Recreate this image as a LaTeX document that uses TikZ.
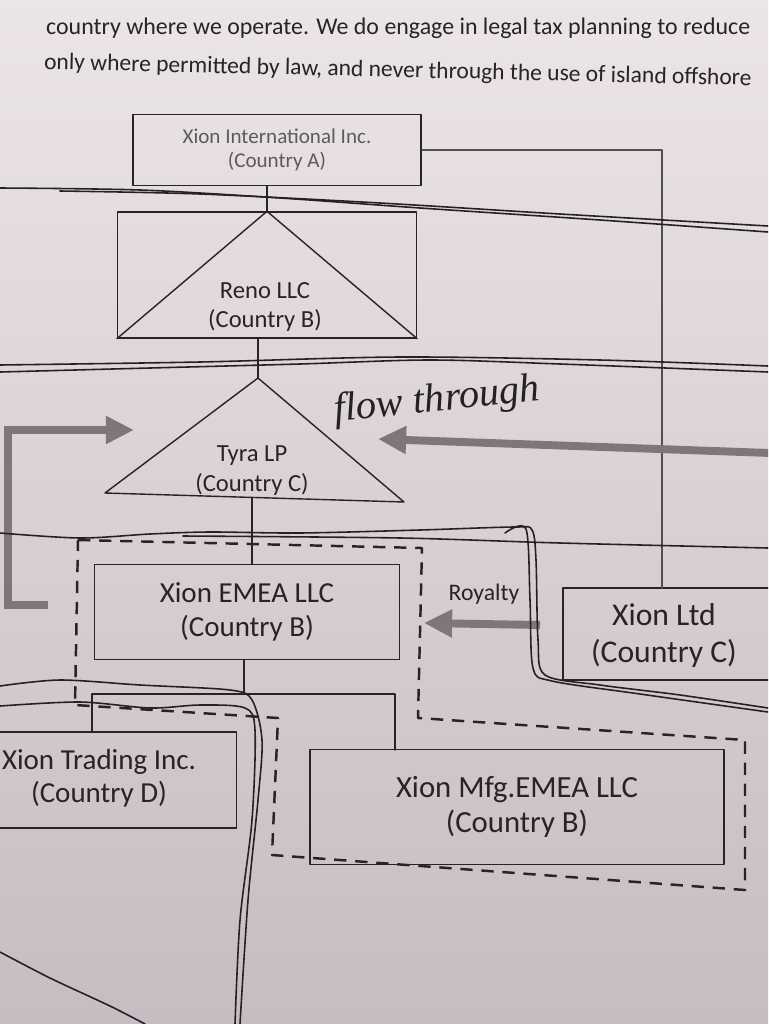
\documentclass[tikz,border=0pt]{standalone}
\usepackage{fontspec}
\setmainfont{Carlito}
\newfontfamily\handfont{Liberation Serif}
\usetikzlibrary{arrows.meta,calc}
\definecolor{paperhi}{RGB}{236,229,229}
\definecolor{paperlo}{RGB}{198,188,194}
\definecolor{ink}{RGB}{40,35,37}
\definecolor{pen}{RGB}{36,32,36}
\definecolor{flowgray}{RGB}{126,118,122}
\begin{document}
\begin{tikzpicture}[x=0.02cm,y=-0.02cm,line cap=round,line join=round,
  box/.style={draw=ink,line width=0.8pt,inner sep=0pt,align=center,text=ink,font=\fontsize{16.5}{19}\selectfont},
  lbl/.style={align=center,text=ink,font=\fontsize{15}{18}\selectfont},
  pen/.style={draw=pen,line width=0.9pt},
  flow/.style={draw=flowgray,line width=4.5pt,line cap=butt,line join=miter,-{Triangle[length=16pt,width=15pt]}},
  grp/.style={draw=ink,line width=1.4pt,line cap=butt,dash pattern=on 7pt off 5pt}]
  \useasboundingbox (0,0) rectangle (768,1024);
  \clip (0,0) rectangle (768,1024);
  \shade[top color=paperhi,bottom color=paperlo] (0,0) rectangle (768,1024);

  % text of the page above the chart
  \node[anchor=west,text=ink,font=\fontsize{13.6}{15}\selectfont] (para1) at (40,28)
    {country where we operate. We do engage in legal tax planning to reduce};
  \node[anchor=west,text=ink,font=\fontsize{13.4}{15}\selectfont,rotate=-1.3] (para2) at (38,63)
    {only where permitted by law, and never through the use of island offshore};

  % entities
  \node[box,minimum width=5.76cm,minimum height=1.42cm,text=ink!75,font=\fontsize{12}{14}\selectfont] (intl) at (277,150)
    {Xion International Inc.\\(Country A)};
  \node[box,minimum width=5.98cm,minimum height=2.52cm] (reno) at (267,275) {};
  \draw[ink,line width=0.8pt] (reno.south west) -- (reno.north) -- (reno.south east);
  \node[lbl,font=\fontsize{14}{17}\selectfont] (renolbl) at (265,307) {Reno LLC\\(Country B)};

  \coordinate (tyratop) at (258,378);
  \coordinate (tyrasw) at (105,493);
  \coordinate (tyrase) at (404,502);
  \draw[ink,line width=0.8pt] (tyratop) -- (tyrase) -- (tyrasw) -- cycle;
  \node[lbl,font=\fontsize{14}{17}\selectfont] (tyra) at (252,471) {Tyra LP\\(Country C)};
  \coordinate (tyrabot) at (252,498);

  \node[box,minimum width=6.1cm,minimum height=1.9cm] (emea) at (247,612) {Xion EMEA LLC\\(Country B)};
  \node[box,minimum width=4.6cm,minimum height=1.84cm] (ltd) at (678,634) {};
  \node[lbl,font=\fontsize{18}{21}\selectfont] (ltdlbl) at (664,636) {Xion Ltd\\(Country C)};
  \node[box,minimum width=4.94cm,minimum height=1.92cm] (trading) at (113,780) {};
  \node[lbl,font=\fontsize{16.5}{19}\selectfont] (tradinglbl) at (99,778) {Xion Trading Inc.\\(Country D)};
  \node[box,minimum width=8.28cm,minimum height=2.3cm,font=\fontsize{17.5}{20}\selectfont] (mfg) at (517,807)
    {Xion Mfg.EMEA LLC\\(Country B)};

  % ownership lines
  \coordinate (ltdin) at (662,588);
  \draw[ink!80,line width=0.6pt] (intl.east) -| (ltdin);
  \draw[ink,line width=0.8pt] (intl.south -| reno.north) -- (reno.north);
  \draw[ink,line width=0.8pt] (reno.south -| tyratop) -- (tyratop);
  \draw[ink,line width=0.8pt] (tyrabot) -- (emea.north -| tyrabot);
  \coordinate (split) at (244,694);
  \coordinate (tradin) at (92,732);
  \coordinate (mfgin) at (395,750);
  \draw[ink,line width=0.8pt] (emea.south -| split) -- (split);
  \draw[ink,line width=0.8pt] (tradin) |- (split) -| (mfgin);

  % dashed group
  \draw[grp] (78,540) -- (422,548) -- (418,718) -- (745,740) -- (745,890)
    -- (272,855) -- (278,718) -- (75,705) -- cycle;

  % flows
  \coordinate (lf1) at (48,605);
  \coordinate (lf2) at (8,605);
  \coordinate (lf3) at (8,430);
  \coordinate (lfend) at (134,430);
  \draw[flow] (lf1) -- (lf2) -- (lf3) -- (lfend);
  \coordinate (rfstart) at (770,453);
  \coordinate (rfend) at (378,439);
  \draw[flow] (rfstart) -- (rfend);
  \coordinate (roystart) at (540,625);
  \coordinate (royend) at (424,623);
  \draw[flow] (roystart) -- (royend);
  \node[text=ink,font=\fontsize{13.5}{15}\selectfont] (roy) at (484,594) {Royalty};

  % pen marks
  \node[text=pen,font=\handfont\itshape\fontsize{23}{26}\selectfont,rotate=6] (flowthr) at (437,401) {flow through};
  \draw[pen] plot[smooth] coordinates {(0,188) (140,190) (280,198) (420,208) (600,220) (768,232)};
  \draw[pen] plot[smooth] coordinates {(60,191) (200,194) (380,203) (560,214) (768,226)};
  \draw[pen] plot[smooth] coordinates {(0,372) (150,368) (300,364) (430,360) (560,364) (768,372)};
  \draw[pen] plot[smooth] coordinates {(0,365) (200,362) (400,357) (600,360) (768,366)};
  \draw[pen] plot[smooth] coordinates {(0,533) (80,538) (150,534) (210,532) (300,533) (420,530)
    (515,527) (532,530) (536,560) (538,640) (545,675) (600,685) (680,695) (768,708)};
  \draw[pen] plot[smooth] coordinates {(505,533) (526,529) (530,600) (533,668) (552,681) (640,694) (768,712)};
  \draw[pen] plot[smooth] coordinates {(183,536) (400,538) (560,543) (768,548)};
  \draw[pen] plot[smooth] coordinates {(0,686) (60,680) (140,685) (230,690) (252,700) (262,740)
    (258,800) (248,900) (240,1024)};
  \draw[pen] plot[smooth] coordinates {(0,706) (80,702) (150,708) (200,705) (245,708) (255,730)
    (252,820) (240,920) (235,1024)};
  \draw[pen] plot[smooth] coordinates {(0,952) (50,978) (110,1006) (145,1024)};
\end{tikzpicture}
\end{document}
